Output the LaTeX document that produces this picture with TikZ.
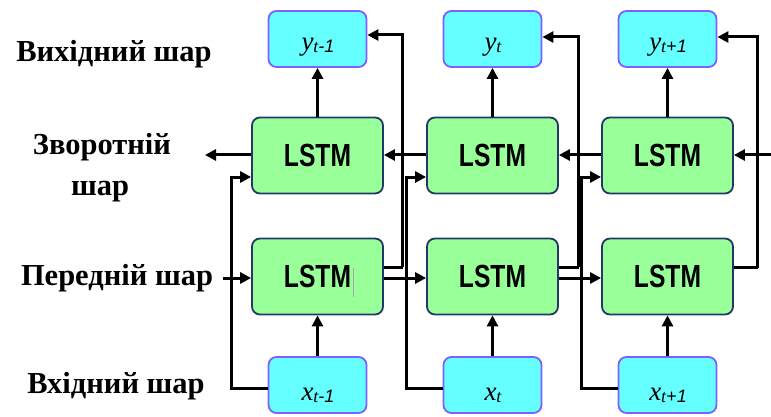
\documentclass[tikz,border=0pt]{standalone}
\usepackage{fontspec}
\usepackage{graphicx}
\setmainfont{Liberation Serif}
\newfontfamily\lserif{Liberation Serif}
\newfontfamily\lsans{Liberation Sans}
\usetikzlibrary{arrows.meta}

\definecolor{iofill}{HTML}{66FFFF}
\definecolor{iodraw}{HTML}{7F5FFF}
\definecolor{cellfill}{HTML}{99FF99}
\definecolor{celldraw}{HTML}{22386A}

\tikzset{
  iobox/.style={draw=iodraw, fill=iofill, line width=1.8pt, rounded corners=8pt,
    minimum width=98pt, minimum height=56pt, inner sep=0pt},
  cellbox/.style={draw=celldraw, fill=cellfill, line width=1.8pt, rounded corners=8pt,
    minimum width=131pt, minimum height=76pt, inner sep=0pt,
    font=\lsans\bfseries\fontsize{32}{32}\selectfont},
  arr/.style={line width=3pt, -{Triangle[length=11pt,width=11pt]}},
  wire/.style={line width=3pt},
  layerlbl/.style={font=\lserif\bfseries\fontsize{30.5}{30.5}\selectfont, anchor=base, inner sep=0pt},
  iotxt/.style={anchor=base, inner sep=0pt},
}

% label of an input/output box: italic letter with a small subscript
\newcommand{\ioname}[2]{{\lserif\fontsize{27}{27}\selectfont\itshape #1}{\fontsize{18}{18}\selectfont\raisebox{-2pt}{#2}}}

\begin{document}
\begin{tikzpicture}[x=1pt, y=-1pt]
\useasboundingbox (0,0) rectangle (771,417);

% layer captions
\node[layerlbl] (lout) at (114,62) {Вихідний шар};
\node[layerlbl] (lback1) at (102,155) {Зворотній};
\node[layerlbl] (lback2) at (100,195) {шар};
\node[layerlbl] (lfwd) at (117,285) {Передній шар};
\node[layerlbl] (lin) at (116,393) {Вхідний шар};

% three time steps
\foreach \i/\dx in {1/0, 2/175, 3/350} {
  \node[iobox]   (y\i) at (317.5+\dx,39)    {};
  \node[cellbox] (b\i) at (317.5+\dx,155.5) {\scalebox{0.77}[1]{LSTM}};
  \node[cellbox] (f\i) at (317.5+\dx,276.5) {\scalebox{0.77}[1]{LSTM}};
  \node[iobox]   (x\i) at (317.5+\dx,385)   {};
}

% box labels
\node[iotxt] (ty1) at (318,51)  {\ioname{y}{\lserif\itshape t\lsans -1}};
\node[iotxt] (ty2) at (493,51)  {\ioname{y}{\lserif\itshape t}};
\node[iotxt] (ty3) at (668,51)  {\ioname{y}{\lserif\itshape t\lsans +1}};
\node[iotxt] (tx1) at (318,400) {\ioname{x}{\lserif\itshape t\lsans -1}};
\node[iotxt] (tx2) at (493,400) {\ioname{x}{\lserif\itshape t}};
\node[iotxt] (tx3) at (668,400) {\ioname{x}{\lserif\itshape t\lsans +1}};

% text cursor left in the first forward cell
\draw[gray!70, line width=0.7pt] (353,268) -- (353,297);

% vertical flow inside each column
\foreach \i in {1,2,3} {
  \draw[arr] (b\i.north) -- (y\i.south);
  \draw[arr] (x\i.north) -- (f\i.south);
  \draw[arr] ([yshift=-3pt]x\i.west) -- ++(-36pt,0) |- ([yshift=-21.5pt]b\i.west);
}

% forward cells feed the outputs
\draw[wire] ([yshift=9.5pt]f1.east) -- ++(19pt,0) coordinate (c1);
\draw[arr] (c1) |- ([yshift=4pt]y1.east);
\draw[wire] ([yshift=9.5pt]f2.east) -- ++(20pt,0) coordinate (c2);
\draw[arr] (c2) |- ([yshift=2pt]y2.east);
\draw[wire] ([yshift=9pt]f3.east) -- ++(24pt,0) coordinate (c3);
\draw[arr] (c3) |- ([yshift=2pt]y3.east);

% forward recurrence
\coordinate (fin) at (223,278);
\draw[arr] (fin) -- ([yshift=-1.5pt]f1.west);
\draw[arr] ([yshift=-1.5pt]f1.east) -- ([yshift=-1.5pt]f2.west);
\draw[arr] ([yshift=-1.5pt]f2.east) -- ([yshift=-1.5pt]f3.west);

% backward recurrence
\coordinate (bin) at (771,155);
\coordinate (bout) at (205,155);
\draw[arr] (bin) -- (b3.east |- bin);
\draw[arr] (b3.west |- bin) -- (b2.east |- bin);
\draw[arr] (b2.west |- bin) -- (b1.east |- bin);
\draw[arr] (b1.west |- bin) -- (bout);
\end{tikzpicture}
\end{document}
